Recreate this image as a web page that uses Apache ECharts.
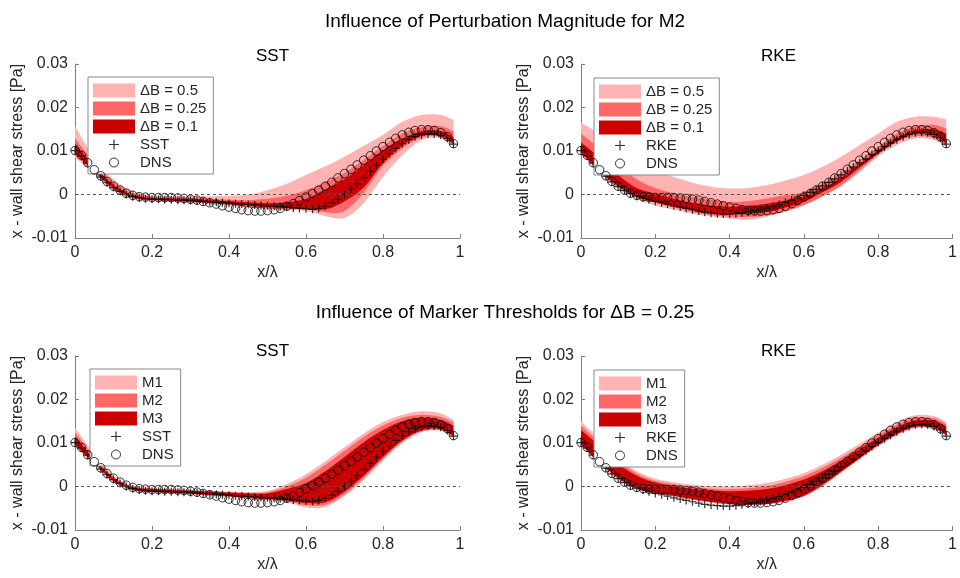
<!DOCTYPE html>
<html><head><meta charset="utf-8">
<script src="https://cdn.jsdelivr.net/npm/echarts@6/dist/echarts.min.js"></script>
<style>html,body{margin:0;padding:0;background:#fff}#c{width:960px;height:578px}</style>
</head><body><div id="c"></div>
<script>
// ---------- data ----------
const xDense = [0,0.017,0.033,0.05,0.067,0.083,0.1,0.117,0.133,0.15,0.167,0.183,0.2,0.217,0.233,0.25,0.267,0.283,0.3,0.317,0.333,0.35,0.367,0.383,0.4,0.417,0.433,0.45,0.467,0.483,0.5,0.517,0.533,0.55,0.567,0.583,0.6,0.617,0.633,0.65,0.667,0.683,0.7,0.717,0.733,0.75,0.767,0.783,0.8,0.817,0.833,0.85,0.867,0.883,0.9,0.917,0.933,0.95,0.967,0.983];
const dnsValues = [0.0101,0.0090,0.0073,0.0057,0.0043,0.0030,0.0019,0.0010,0.0003,-0.0002,-0.0005,-0.0006,-0.0007,-0.0007,-0.0007,-0.0007,-0.0008,-0.0009,-0.0011,-0.0013,-0.0016,-0.0019,-0.0022,-0.0026,-0.0029,-0.0032,-0.0035,-0.0037,-0.0038,-0.0038,-0.0037,-0.0035,-0.0032,-0.0027,-0.0021,-0.0014,-0.0006,0.0002,0.0010,0.0019,0.0028,0.0038,0.0048,0.0058,0.0068,0.0079,0.0089,0.0100,0.0110,0.0120,0.0129,0.0137,0.0143,0.0147,0.0149,0.0149,0.0147,0.0142,0.0133,0.0117];
const sstValues = [0.0101,0.0089,0.0072,0.0055,0.0040,0.0027,0.0016,0.0007,0.0000,-0.0005,-0.0008,-0.0010,-0.0011,-0.0011,-0.0012,-0.0012,-0.0013,-0.0013,-0.0014,-0.0015,-0.0016,-0.0017,-0.0018,-0.0019,-0.0020,-0.0021,-0.0022,-0.0023,-0.0024,-0.0025,-0.0026,-0.0027,-0.0028,-0.0029,-0.0031,-0.0032,-0.0033,-0.0034,-0.0032,-0.0027,-0.0020,-0.0011,0.0000,0.0012,0.0025,0.0039,0.0053,0.0067,0.0081,0.0094,0.0106,0.0117,0.0126,0.0133,0.0137,0.0139,0.0139,0.0136,0.0129,0.0116];
const rkeValues = [0.0101,0.0089,0.0072,0.0056,0.0042,0.0029,0.0018,0.0009,0.0002,-0.0004,-0.0008,-0.0012,-0.0016,-0.0019,-0.0022,-0.0026,-0.0029,-0.0032,-0.0035,-0.0038,-0.0041,-0.0043,-0.0044,-0.0045,-0.0045,-0.0044,-0.0042,-0.0040,-0.0037,-0.0034,-0.0031,-0.0027,-0.0023,-0.0018,-0.0013,-0.0008,-0.0002,0.0005,0.0012,0.0020,0.0028,0.0036,0.0045,0.0054,0.0063,0.0073,0.0082,0.0092,0.0101,0.0110,0.0118,0.0126,0.0133,0.0138,0.0142,0.0143,0.0142,0.0138,0.0130,0.0116];

const bandX = [0,0.05,0.1,0.15,0.2,0.25,0.3,0.35,0.4,0.45,0.5,0.55,0.6,0.65,0.7,0.75,0.8,0.85,0.9,0.95,0.983];

// Panel 1: SST, perturbation magnitude
const p1LightUpper = [0.0157,0.0085,0.0035,0.0008,-0.0003,-0.0004,-0.0004,-0.0004,-0.0003,0.0000,0.0010,0.0025,0.0045,0.0065,0.0087,0.0112,0.0137,0.0167,0.0183,0.0183,0.0172];
const p1LightLower = [0.0085,0.0048,0.0010,-0.0010,-0.0015,-0.0017,-0.0019,-0.0022,-0.0026,-0.0030,-0.0034,-0.0036,-0.0038,-0.0050,-0.0054,-0.0020,0.0040,0.0090,0.0125,0.0130,0.0112];
const p1MidUpper = [0.0130,0.0072,0.0027,0.0003,-0.0006,-0.0007,-0.0008,-0.0010,-0.0012,-0.0013,-0.0010,-0.0003,0.0010,0.0028,0.0050,0.0080,0.0112,0.0140,0.0155,0.0157,0.0145];
const p1MidLower = [0.0090,0.0050,0.0013,-0.0008,-0.0013,-0.0015,-0.0017,-0.0020,-0.0024,-0.0028,-0.0032,-0.0034,-0.0034,-0.0041,-0.0038,0.0004,0.0066,0.0106,0.0131,0.0133,0.0114];
const p1DarkUpper = [0.0118,0.0065,0.0022,-0.0001,-0.0008,-0.0009,-0.0010,-0.0013,-0.0015,-0.0018,-0.0020,-0.0018,-0.0010,0.0012,0.0035,0.0068,0.0102,0.0128,0.0145,0.0146,0.0132];
const p1DarkLower = [0.0095,0.0053,0.0015,-0.0006,-0.0012,-0.0014,-0.0016,-0.0019,-0.0022,-0.0026,-0.0029,-0.0031,-0.0032,-0.0034,-0.0016,0.0016,0.0072,0.0112,0.0135,0.0136,0.0116];

// Panel 2: RKE, perturbation magnitude
const p2LightUpper = [0.0165,0.0140,0.0110,0.0080,0.0055,0.0040,0.0027,0.0018,0.0014,0.0015,0.0021,0.0032,0.0045,0.0064,0.0087,0.0114,0.0140,0.0167,0.0179,0.0179,0.0173];
const p2LightLower = [0.0095,0.0050,0.0015,-0.0010,-0.0025,-0.0035,-0.0044,-0.0050,-0.0055,-0.0058,-0.0051,-0.0040,-0.0025,-0.0005,0.0019,0.0052,0.0088,0.0114,0.0129,0.0125,0.0110];
const p2MidUpper = [0.0140,0.0105,0.0068,0.0035,0.0015,0.0003,-0.0005,-0.0012,-0.0017,-0.0015,-0.0009,-0.0002,0.0006,0.0025,0.0048,0.0079,0.0110,0.0140,0.0157,0.0160,0.0152];
const p2MidLower = [0.0095,0.0052,0.0017,-0.0007,-0.0019,-0.0030,-0.0040,-0.0047,-0.0051,-0.0052,-0.0048,-0.0038,-0.0024,-0.0004,0.0021,0.0056,0.0092,0.0122,0.0134,0.0130,0.0112];
const p2DarkUpper = [0.0120,0.0085,0.0045,0.0015,0.0002,-0.0010,-0.0020,-0.0025,-0.0028,-0.0026,-0.0021,-0.0014,-0.0005,0.0015,0.0037,0.0068,0.0102,0.0130,0.0148,0.0150,0.0140];
const p2DarkLower = [0.0097,0.0054,0.0019,-0.0005,-0.0017,-0.0027,-0.0036,-0.0042,-0.0045,-0.0044,-0.0040,-0.0030,-0.0017,0.0005,0.0029,0.0062,0.0094,0.0122,0.0141,0.0137,0.0117];

// Panel 3: SST, marker thresholds
const p3LightUpper = [0.0135,0.0075,0.0025,0.0002,-0.0004,-0.0006,-0.0008,-0.0010,-0.0012,-0.0013,-0.0010,0.0006,0.0028,0.0058,0.0090,0.0122,0.0148,0.0165,0.0173,0.0168,0.0153];
const p3LightLower = [0.0092,0.0050,0.0010,-0.0009,-0.0014,-0.0016,-0.0018,-0.0021,-0.0024,-0.0028,-0.0032,-0.0036,-0.0048,-0.0047,-0.0022,0.0015,0.0060,0.0100,0.0125,0.0128,0.0112];
const p3MidUpper = [0.0125,0.0068,0.0022,0.0000,-0.0005,-0.0007,-0.0009,-0.0011,-0.0013,-0.0015,-0.0013,0.0000,0.0020,0.0050,0.0082,0.0114,0.0140,0.0158,0.0165,0.0160,0.0147];
const p3MidLower = [0.0094,0.0052,0.0012,-0.0008,-0.0013,-0.0015,-0.0017,-0.0020,-0.0023,-0.0027,-0.0030,-0.0034,-0.0043,-0.0042,-0.0018,0.0020,0.0064,0.0103,0.0127,0.0130,0.0114];
const p3DarkUpper = [0.0115,0.0062,0.0019,-0.0002,-0.0006,-0.0008,-0.0010,-0.0012,-0.0014,-0.0016,-0.0016,-0.0006,0.0008,0.0035,0.0068,0.0102,0.0130,0.0150,0.0158,0.0153,0.0140];
const p3DarkLower = [0.0096,0.0054,0.0013,-0.0007,-0.0012,-0.0014,-0.0016,-0.0019,-0.0022,-0.0026,-0.0029,-0.0032,-0.0038,-0.0036,-0.0012,0.0025,0.0068,0.0106,0.0129,0.0132,0.0116];

// Panel 4: RKE, marker thresholds
const p4LightUpper = [0.0150,0.0108,0.0065,0.0035,0.0018,0.0010,0.0004,0.0001,0.0000,0.0003,0.0008,0.0018,0.0031,0.0050,0.0073,0.0098,0.0124,0.0148,0.0164,0.0162,0.0148];
const p4LightLower = [0.0095,0.0052,0.0016,-0.0006,-0.0016,-0.0023,-0.0031,-0.0037,-0.0042,-0.0043,-0.0042,-0.0035,-0.0023,0.0000,0.0031,0.0062,0.0092,0.0117,0.0134,0.0132,0.0115];
const p4MidUpper = [0.0140,0.0100,0.0058,0.0030,0.0013,0.0005,-0.0001,-0.0005,-0.0006,-0.0004,0.0001,0.0011,0.0024,0.0043,0.0066,0.0092,0.0118,0.0142,0.0158,0.0157,0.0143];
const p4MidLower = [0.0096,0.0054,0.0018,-0.0005,-0.0015,-0.0022,-0.0030,-0.0036,-0.0041,-0.0042,-0.0041,-0.0034,-0.0022,0.0002,0.0033,0.0064,0.0094,0.0119,0.0136,0.0134,0.0117];
const p4DarkUpper = [0.0130,0.0093,0.0052,0.0025,0.0009,0.0001,-0.0005,-0.0009,-0.0011,-0.0010,-0.0006,0.0003,0.0016,0.0035,0.0059,0.0086,0.0112,0.0136,0.0152,0.0151,0.0138];
const p4DarkLower = [0.0097,0.0055,0.0020,-0.0004,-0.0014,-0.0021,-0.0029,-0.0035,-0.0040,-0.0041,-0.0040,-0.0033,-0.0021,0.0004,0.0035,0.0066,0.0096,0.0121,0.0138,0.0136,0.0119];

const magnitudeNames = ['\u0394B = 0.5','\u0394B = 0.25','\u0394B = 0.1'];
const thresholdNames = ['M1','M2','M3'];
const xTickValues = [0, 0.2, 0.4, 0.6, 0.8, 1];
const yTickValues = [-0.01, 0, 0.01, 0.02, 0.03];
const mainTitles = ['Influence of Perturbation Magnitude for M2', 'Influence of Marker Thresholds for \u0394B = 0.25'];

// ---------- chart ----------
const FONT = '"Liberation Sans", Arial, Helvetica, sans-serif';
const BAND_COLORS = ['#FFB3B3', '#FF6666', '#CC0000'];
const PLUS = 'path://M3.4,0h1.2v3.4h3.4v1.2h-3.4v3.4h-1.2v-3.4h-3.4v-1.2h3.4z';
const PLUS_LEGEND = 'path://M0,0L0,0M14,14L14,14M6.4,2h1.2v4.4h4.4v1.2h-4.4v4.4h-1.2v-4.4h-4.4v-1.2h4.4z';
const CIRCLE_LEGEND = 'path://M0,0L0,0M14,14L14,14M11.5,7A4.5,4.5,0,1,1,2.5,7A4.5,4.5,0,1,1,11.5,7z';

const panels = [
  {grid:{left:75, top:64, width:385, height:174}, title:'SST', titlePos:[267.5, 43], names:magnitudeNames, model:sstValues, modelName:'SST',
   bands:[[p1LightLower,p1LightUpper],[p1MidLower,p1MidUpper],[p1DarkLower,p1DarkUpper]], legend:{left:88, top:77}},
  {grid:{left:581, top:64, width:385, height:174}, title:'RKE', titlePos:[773.5, 43], names:magnitudeNames, model:rkeValues, modelName:'RKE',
   bands:[[p2LightLower,p2LightUpper],[p2MidLower,p2MidUpper],[p2DarkLower,p2DarkUpper]], legend:{left:594, top:78}},
  {grid:{left:75, top:356, width:385, height:174}, title:'SST', titlePos:[267.5, 338], names:thresholdNames, model:sstValues, modelName:'SST',
   bands:[[p3LightLower,p3LightUpper],[p3MidLower,p3MidUpper],[p3DarkLower,p3DarkUpper]], legend:{left:90, top:369}},
  {grid:{left:581, top:356, width:385, height:174}, title:'RKE', titlePos:[773.5, 338], names:thresholdNames, model:rkeValues, modelName:'RKE',
   bands:[[p4LightLower,p4LightUpper],[p4MidLower,p4MidUpper],[p4DarkLower,p4DarkUpper]], legend:{left:594, top:370}}
];

const zip = (xs, ys) => xs.map((x, i) => [x, ys[i]]);

// Catmull-Rom spline through pixel points, as cubic bezier path segments
function splineSegments(pts) {
  let d = '';
  for (let k = 0; k < pts.length - 1; k++) {
    const p0 = pts[k - 1] || pts[k], p1 = pts[k], p2 = pts[k + 1], p3 = pts[k + 2] || pts[k + 1];
    const c1x = p1[0] + (p2[0] - p0[0]) / 6, c1y = p1[1] + (p2[1] - p0[1]) / 6;
    const c2x = p2[0] - (p3[0] - p1[0]) / 6, c2y = p2[1] - (p3[1] - p1[1]) / 6;
    d += ' C' + c1x + ',' + c1y + ' ' + c2x + ',' + c2y + ' ' + p2[0] + ',' + p2[1];
  }
  return d;
}

function bandRenderer(color) {
  return function (params, api) {
    if (params.dataIndex !== 0) return null;
    const n = params.dataInsideLength;
    const up = [], lo = [];
    for (let k = 0; k < n; k++) {
      up.push(api.coord([api.value(0, k), api.value(2, k)]));
      lo.push(api.coord([api.value(0, k), api.value(1, k)]));
    }
    lo.reverse();
    const d = 'M' + up[0][0] + ',' + up[0][1] + splineSegments(up) +
      ' L' + lo[0][0] + ',' + lo[0][1] + splineSegments(lo) + ' Z';
    return {type:'path', shape:{pathData:d}, style:{fill:color, stroke:null}, silent:true};
  };
}

const titles = [
  {text: mainTitles[0], left: 500, top: 7, textAlign: 'center', textStyle:{fontSize:19, fontWeight:'normal', color:'#000', fontFamily:FONT}},
  {text: mainTitles[1], left: 500, top: 298, textAlign: 'center', textStyle:{fontSize:19, fontWeight:'normal', color:'#000', fontFamily:FONT}}
];
panels.forEach(p => titles.push({text:p.title, left:p.titlePos[0], top:p.titlePos[1], textAlign:'center',
  textStyle:{fontSize:17, fontWeight:'normal', color:'#000', fontFamily:FONT}}));

const grids = [], xAxes = [], yAxes = [], series = [], legends = [];
const axisColor = '#808080';
const labelColor = '#262626';
panels.forEach((p, i) => {
  grids.push(Object.assign({containLabel:false}, p.grid));
  xAxes.push({gridIndex:i, type:'value', min:xTickValues[0], max:xTickValues[xTickValues.length-1], interval:0.2,
    name:'x/\u03bb', nameLocation:'middle', nameGap:27,
    nameTextStyle:{fontSize:16, color:labelColor, fontFamily:FONT},
    axisLine:{show:true, onZero:false, lineStyle:{color:axisColor, width:1}},
    axisTick:{show:true, inside:true, length:4, lineStyle:{color:axisColor}},
    axisLabel:{fontSize:16, color:labelColor, margin:7, fontFamily:FONT},
    splitLine:{show:false}});
  yAxes.push({gridIndex:i, type:'value', min:yTickValues[0], max:yTickValues[yTickValues.length-1], interval:0.01,
    name:'x - wall shear stress [Pa]', nameLocation:'middle', nameGap:49,
    nameTextStyle:{fontSize:16, color:labelColor, fontFamily:FONT},
    axisLine:{show:true, lineStyle:{color:axisColor, width:1}},
    axisTick:{show:true, inside:true, length:4, lineStyle:{color:axisColor}},
    axisLabel:{fontSize:16, color:labelColor, margin:7, fontFamily:FONT},
    splitLine:{show:false}});

  p.bands.forEach((band, b) => {
    const lower = band[0], upper = band[1];
    const s = {type:'custom', name:p.names[b], xAxisIndex:i, yAxisIndex:i,
      data: bandX.map((x, k) => [x, lower[k], upper[k]]),
      encode:{x:0, y:[1, 2]}, renderItem: bandRenderer(BAND_COLORS[b]),
      color: BAND_COLORS[b], itemStyle:{color:BAND_COLORS[b]}, silent:true, z:1 + b * 0.01};
    if (b === 2) {
      s.markLine = {silent:true, symbol:['none','none'], label:{show:false}, animation:false,
        lineStyle:{type:[3,3], color:'#555', width:1}, emphasis:{disabled:true}, data:[{yAxis:0}]};
    }
    series.push(s);
  });
  series.push({type:'scatter', name:p.modelName, xAxisIndex:i, yAxisIndex:i, data: zip(xDense, p.model),
    symbol:PLUS, symbolSize:8, color:'#000', itemStyle:{color:'#000'}, silent:true, z:3});
  series.push({type:'scatter', name:'DNS', xAxisIndex:i, yAxisIndex:i, data: zip(xDense, dnsValues),
    symbol:'circle', symbolSize:8.5, color:'#000', itemStyle:{color:'rgba(0,0,0,0)', borderColor:'#000', borderWidth:1}, silent:true, z:4});

  legends.push({orient:'vertical', left:p.legend.left, top:p.legend.top, align:'left',
    itemWidth:42, itemHeight:14, itemGap:3, padding:[6,7,4,5],
    borderColor:'#8a8a8a', borderWidth:1, backgroundColor:'#fff', selectedMode:false,
    textStyle:{fontSize:15, color:labelColor, fontFamily:FONT},
    data:[
      {name:p.names[0], icon:'rect', itemStyle:{color:BAND_COLORS[0], borderWidth:0}},
      {name:p.names[1], icon:'rect', itemStyle:{color:BAND_COLORS[1], borderWidth:0}},
      {name:p.names[2], icon:'rect', itemStyle:{color:BAND_COLORS[2], borderWidth:0}},
      {name:p.modelName, icon:PLUS_LEGEND, itemStyle:{color:'#000', borderWidth:0}},
      {name:'DNS', icon:CIRCLE_LEGEND, itemStyle:{color:'rgba(0,0,0,0)', borderColor:'#000', borderWidth:1}}
    ]});
});

const chart = echarts.init(document.getElementById('c'), null, {renderer:'canvas'});
chart.setOption({
  animation:false,
  backgroundColor:'#fff',
  title: titles,
  grid: grids,
  xAxis: xAxes,
  yAxis: yAxes,
  legend: legends,
  series: series
});
</script>
</body></html>
